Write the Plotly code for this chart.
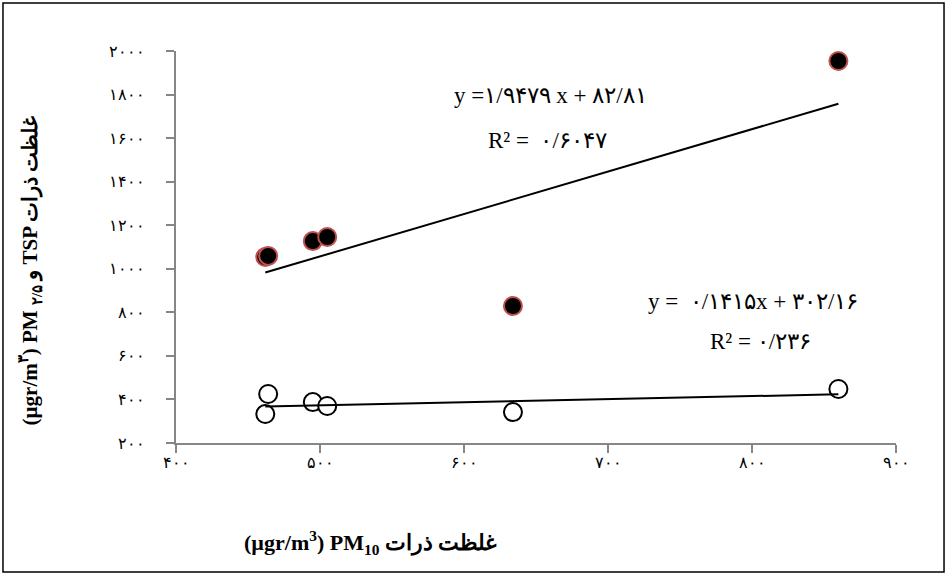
import plotly.graph_objects as go

# PM10 concentration (x) shared by both series
pm10 = [462, 464, 495, 505, 634, 860]
# TSP (filled) and PM2.5 (open) concentrations
tsp = [1054, 1059, 1127, 1146, 829, 1954]
pm25 = [333, 425, 388, 370, 342, 448]

# trendline coefficients as printed on the chart
tsp_fit = [1.9479, 82.81]
pm25_fit = [0.1415, 302.16]

x_ticks = [400, 500, 600, 700, 800, 900]
x_ticktext = ['۴۰۰', '۵۰۰', '۶۰۰', '۷۰۰', '۸۰۰', '۹۰۰']
y_ticks = [200, 400, 600, 800, 1000, 1200, 1400, 1600, 1800, 2000]
y_ticktext = ['۲۰۰', '۴۰۰', '۶۰۰', '۸۰۰', '۱۰۰۰', '۱۲۰۰', '۱۴۰۰', '۱۶۰۰', '۱۸۰۰', '۲۰۰۰']

serif = 'Liberation Serif, Times New Roman, DejaVu Serif, serif'

fig = go.Figure()

fig.add_trace(go.Scatter(x=pm10, y=tsp, mode='markers',
                         marker=dict(size=18, color='black', line=dict(color='#c0504d', width=2))))
fig.add_trace(go.Scatter(x=pm10, y=pm25, mode='markers',
                         marker=dict(size=18, color='white', line=dict(color='black', width=2))))

xl = [min(pm10), max(pm10)]
fig.add_trace(go.Scatter(x=xl, y=[tsp_fit[0] * v + tsp_fit[1] for v in xl], mode='lines',
                         line=dict(color='black', width=2)))
fig.add_trace(go.Scatter(x=xl, y=[pm25_fit[0] * v + pm25_fit[1] for v in xl], mode='lines',
                         line=dict(color='black', width=2)))

axis_common = dict(showgrid=False, zeroline=False, showline=True, linecolor='#868686', linewidth=1.5,
                   ticks='outside', ticklen=8, tickcolor='#868686', tickwidth=1.5,
                   tickfont=dict(family=serif, size=16, color='black'))

fig.update_xaxes(range=[400, 900], tickvals=x_ticks, ticktext=x_ticktext, ticklabelstandoff=-4, **axis_common)
fig.update_yaxes(range=[200, 2000], tickvals=y_ticks, ticktext=y_ticktext, ticklabelstandoff=18, **axis_common)

ann_font = dict(family=serif, size=23, color='black')
fig.add_annotation(x=660, y=1795, text='y =۱/۹۴۷۹ x + ۸۲/۸۱', showarrow=False, font=ann_font)
fig.add_annotation(x=658, y=1591, text='R² =  ۰/۶۰۴۷', showarrow=False, font=ann_font)
fig.add_annotation(x=801, y=852, text='y =  ۰/۱۴۱۵x + ۳۰۲/۱۶', showarrow=False, font=ann_font)
fig.add_annotation(x=806, y=664, text='R² = ۰/۲۳۶', showarrow=False, font=ann_font)

fig.add_annotation(xref='paper', yref='paper', x=-0.2028, y=0.44, xanchor='center', yanchor='middle',
                   textangle=-90, showarrow=False,
                   text='<b>(µgr/m<sup>۳</sup>) PM و <sub>۲/۵</sub> TSP غلظت ذرات</b>',
                   font=dict(family=serif, size=21, color='black'))
fig.add_annotation(xref='paper', yref='paper', x=0.27, y=-0.255, xanchor='center', yanchor='middle',
                   showarrow=False,
                   text='<b>(µgr/m<sup>3</sup>) PM<sub>10</sub> غلظت ذرات</b>',
                   font=dict(family=serif, size=22, color='black'))

# outer frame around the whole chart
fig.add_shape(type='rect', xref='paper', yref='paper', x0=-0.2403, x1=1.0667, y0=-0.329, y1=1.1224,
              line=dict(color='black', width=1.5))

fig.update_layout(width=947, height=574, margin=dict(l=176, r=51, t=51, b=131),
                  plot_bgcolor='white', paper_bgcolor='white', showlegend=False)

fig.write_html('out.html', config={'displayModeBar': False},
               post_script="document.body.style.margin='0';")
